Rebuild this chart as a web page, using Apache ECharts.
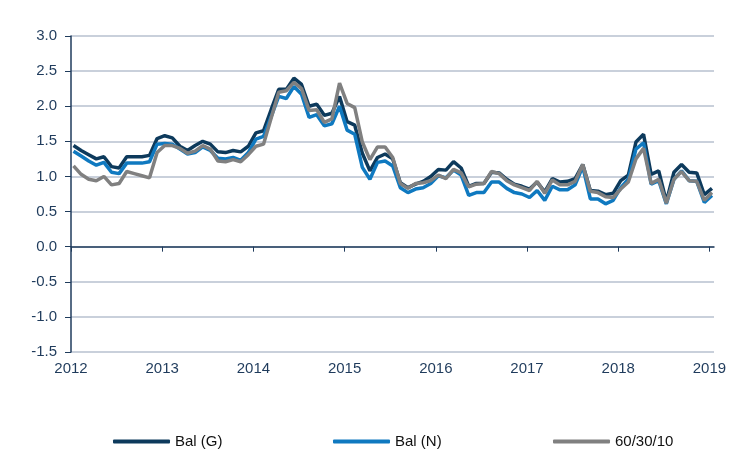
<!DOCTYPE html>
<html>
<head>
<meta charset="utf-8">
<script src="https://cdn.jsdelivr.net/npm/echarts@6/dist/echarts.min.js"></script>
<style>
html, body { margin: 0; padding: 0; background: #fff; }
#chart { width: 730px; height: 459px; }
</style>
</head>
<body>
<div id="chart"></div>
<script>
// monthly readings, Jan 2012 .. Jan 2019
const startYear = 2012;
const yearTicks = [2012, 2013, 2014, 2015, 2016, 2017, 2018, 2019];

const balG = [
  1.44, 1.37, 1.31, 1.25, 1.28, 1.14, 1.12, 1.28, 1.28, 1.28, 1.30, 1.54,
  1.58, 1.55, 1.43, 1.37, 1.44, 1.50, 1.46, 1.35, 1.34, 1.37, 1.35, 1.43,
  1.62, 1.65, 1.95, 2.24, 2.24, 2.40, 2.31, 2.00, 2.03, 1.87, 1.90, 2.14,
  1.78, 1.73, 1.33, 1.08, 1.27, 1.32, 1.25, 0.91, 0.84, 0.89, 0.93, 1.00,
  1.10, 1.09, 1.21, 1.12, 0.86, 0.90, 0.90, 1.06, 1.05, 0.96, 0.89, 0.86,
  0.82, 0.92, 0.78, 0.97, 0.92, 0.93, 0.97, 1.17, 0.80, 0.79, 0.74, 0.76,
  0.94, 1.02, 1.49, 1.60, 1.03, 1.08, 0.64, 1.06, 1.17, 1.06, 1.05, 0.74,
  0.83
];
const balN = [
  1.36, 1.29, 1.22, 1.16, 1.20, 1.06, 1.04, 1.19, 1.19, 1.19, 1.21, 1.46,
  1.47, 1.46, 1.39, 1.32, 1.34, 1.42, 1.37, 1.26, 1.25, 1.27, 1.23, 1.34,
  1.53, 1.57, 1.85, 2.14, 2.11, 2.28, 2.17, 1.84, 1.88, 1.72, 1.75, 2.00,
  1.66, 1.60, 1.13, 0.96, 1.20, 1.22, 1.15, 0.84, 0.77, 0.82, 0.84, 0.90,
  1.01, 0.98, 1.09, 1.02, 0.73, 0.77, 0.77, 0.92, 0.92, 0.83, 0.77, 0.75,
  0.70, 0.80, 0.66, 0.86, 0.81, 0.81, 0.88, 1.14, 0.68, 0.68, 0.61, 0.66,
  0.84, 0.96, 1.39, 1.48, 0.89, 0.94, 0.61, 0.96, 1.08, 0.94, 0.93, 0.63,
  0.73
];
const mix603010 = [
  1.15, 1.03, 0.96, 0.94, 1.00, 0.88, 0.90, 1.07, 1.04, 1.01, 0.98, 1.34,
  1.44, 1.44, 1.40, 1.33, 1.36, 1.44, 1.39, 1.22, 1.21, 1.24, 1.21, 1.31,
  1.43, 1.46, 1.83, 2.20, 2.22, 2.34, 2.25, 1.94, 1.95, 1.77, 1.82, 2.33,
  2.04, 1.98, 1.49, 1.24, 1.42, 1.42, 1.27, 0.90, 0.83, 0.90, 0.91, 0.94,
  1.02, 0.97, 1.10, 1.05, 0.85, 0.89, 0.90, 1.07, 1.04, 0.94, 0.88, 0.84,
  0.80, 0.93, 0.76, 0.95, 0.88, 0.88, 0.93, 1.17, 0.79, 0.77, 0.71, 0.70,
  0.82, 0.92, 1.25, 1.40, 0.90, 0.96, 0.62, 0.96, 1.07, 0.94, 0.93, 0.66,
  0.77
];

const seriesNames = ['Bal (G)', 'Bal (N)', '60/30/10'];
const seriesColors = ['#0d3a5c', '#0f79c0', '#808080'];

// observation sits about a third into each month
const toPairs = arr => arr.map((v, i) => [startYear + (i + 0.33) / 12, v]);

const chart = echarts.init(document.getElementById('chart'));
const axisColor = '#1f3b5c';
const font = 'Arial, "Liberation Sans", sans-serif';

const legendLefts = [108, 328, 548];

chart.setOption({
  animation: false,
  grid: { left: 71, right: 16, top: 36, bottom: 107 },
  legend: seriesNames.map((name, k) => ({
    data: [name],
    left: legendLefts[k],
    top: 429,
    icon: 'roundRect',
    itemWidth: 57,
    itemHeight: 4,
    textStyle: { color: '#111', fontSize: 15, fontFamily: font }
  })),
  xAxis: {
    type: 'value',
    min: 2012,
    max: 2019.05,
    splitLine: { show: false },
    axisLine: { lineStyle: { color: axisColor, width: 1.5 } },
    axisTick: { customValues: yearTicks, length: 5, lineStyle: { color: axisColor } },
    axisLabel: {
      customValues: yearTicks,
      color: axisColor, fontSize: 15, fontFamily: font, margin: 9,
      formatter: v => String(Math.round(v))
    }
  },
  yAxis: {
    type: 'value',
    min: -1.5,
    max: 3,
    interval: 0.5,
    axisLine: { show: true, lineStyle: { color: axisColor, width: 1.5 } },
    axisTick: { show: true, length: 6, lineStyle: { color: axisColor } },
    splitLine: { lineStyle: { color: '#b7c1cf', width: 1.5 } },
    axisLabel: {
      color: axisColor, fontSize: 15, fontFamily: font, margin: 14,
      formatter: v => v.toFixed(1)
    }
  },
  series: [balG, balN, mix603010].map((arr, k) => ({
    name: seriesNames[k],
    type: 'line',
    data: toPairs(arr),
    showSymbol: false,
    symbol: 'none',
    color: seriesColors[k],
    lineStyle: { width: 3.5, color: seriesColors[k] }
  }))
});
</script>
</body>
</html>
